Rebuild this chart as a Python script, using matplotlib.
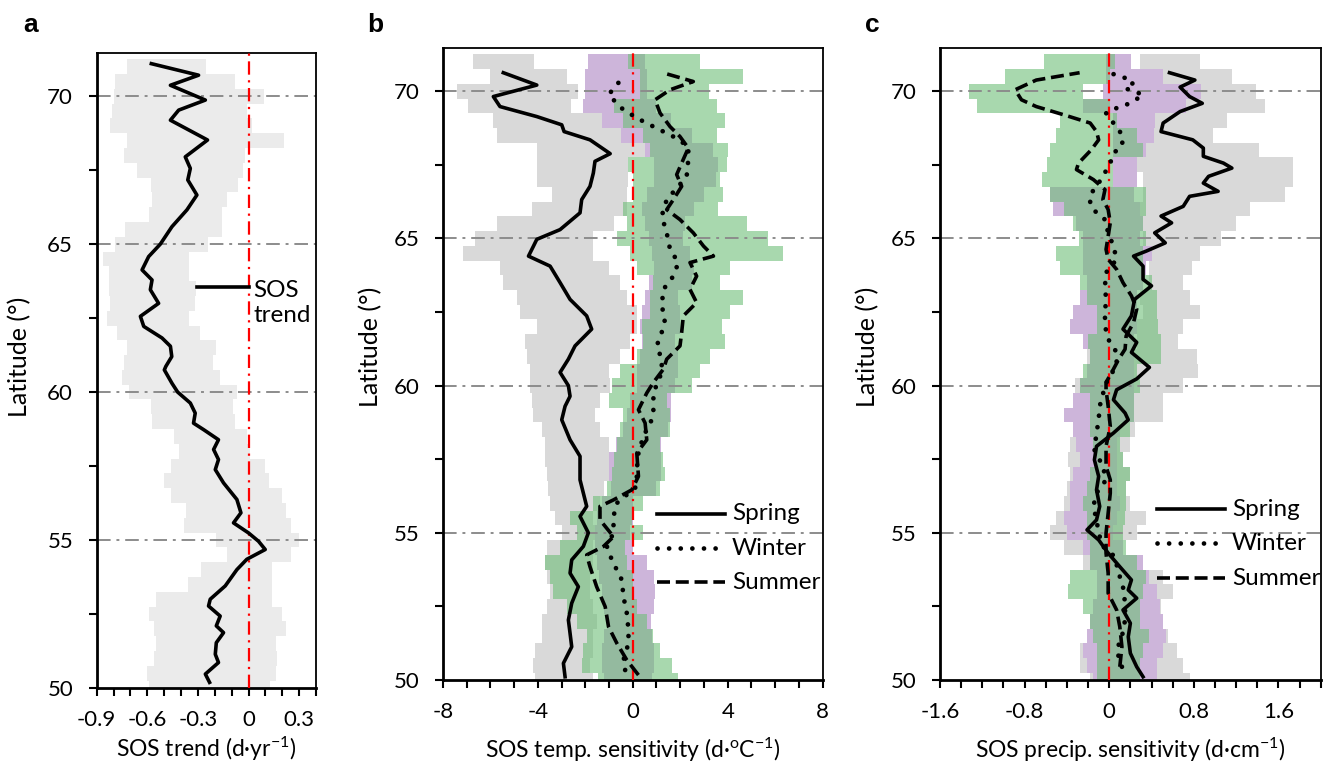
import numpy as np
import matplotlib
matplotlib.use('Agg')
import matplotlib.pyplot as plt

plt.rcParams['font.family'] = ['Lato', 'DejaVu Sans']
plt.rcParams['axes.unicode_minus'] = False
plt.rcParams['mathtext.fontset'] = 'custom'
plt.rcParams['mathtext.rm'] = 'Lato'
plt.rcParams['mathtext.it'] = 'Lato:italic'

# band latitudes (row centres, 0.5 deg rows)
band_lat = np.arange(50.0, 71.01, 0.5)

# ---- panel a : SOS trend ----
a_lo = [-0.59, -0.60, -0.56, -0.55, -0.56, -0.59, -0.55, -0.36, -0.28, -0.13, -0.19,
        -0.38, -0.37, -0.46, -0.50, -0.46, -0.41, -0.44, -0.57, -0.58, -0.71,
        -0.75, -0.74, -0.72, -0.78, -0.84, -0.82, -0.83, -0.83, -0.86, -0.79,
        -0.73, -0.59, -0.57, -0.58, -0.66, -0.74, -0.72, -0.82, -0.81, -0.80,
        -0.79, -0.72]
a_hi = [0.13, 0.16, 0.17, 0.16, 0.22, 0.20, 0.14, 0.14, 0.14, 0.25, 0.30,
        0.25, 0.22, 0.20, 0.12, 0.10, 0.01, -0.01, -0.08, -0.09, -0.07,
        -0.17, -0.21, -0.19, -0.29, -0.35, -0.32, -0.31, -0.35, -0.35, -0.24,
        -0.16, -0.16, -0.13, -0.06, -0.03, -0.02, 0.21, 0.02, -0.01, 0.09,
        -0.08, -0.25]
a_lat = [50.19, 50.47, 50.86, 51.14, 51.53, 51.87, 52.10, 52.43, 52.77, 53.00, 53.45,
         54.00, 54.35, 54.68, 54.96, 55.24, 55.58, 55.92, 56.37, 56.93, 57.38, 57.72,
         58.06, 58.39, 58.73, 58.95, 59.29, 59.63, 60.00, 60.30, 60.75, 60.87, 61.20,
         61.55, 61.83, 62.22, 62.56, 63.00, 63.46, 63.79, 64.13, 64.58, 65.00, 65.59,
         66.16, 66.66, 67.17, 67.56, 67.95, 68.52, 69.19, 69.53, 69.87, 70.37, 70.71,
         71.10]
a_trend = [-0.231, -0.256, -0.178, -0.197, -0.191, -0.148, -0.191, -0.168, -0.237,
           -0.227, -0.138, -0.069, -0.010, 0.099, 0.059, 0.000, -0.089, -0.045,
           -0.069, -0.148, -0.197, -0.178, -0.207, -0.178, -0.266, -0.326, -0.316,
           -0.345, -0.420, -0.454, -0.499, -0.490, -0.455, -0.463, -0.513, -0.621,
           -0.641, -0.533, -0.582, -0.572, -0.631, -0.592, -0.523, -0.454, -0.365,
           -0.306, -0.360, -0.345, -0.375, -0.243, -0.463, -0.414, -0.256, -0.463,
           -0.296, -0.576]

# ---- panel b : temperature sensitivity ----
b_spr_lo = [-4.11, -4.18, -4.11, -3.83, -3.83, -3.62, -3.48, -3.62, -3.69, -3.62, -3.00,
            -3.27, -3.48, -3.55, -3.62, -3.69, -3.69, -3.83, -4.18, -4.25, -4.32,
            -4.32, -4.46, -4.53, -4.04, -4.74, -4.88, -5.45, -5.59, -7.13, -6.64,
            -5.73, -4.25, -3.41, -4.04, -4.04, -4.04, -5.73, -5.87, -6.92, -7.41,
            -6.00, -6.74]
b_spr_hi = [-1.66, -1.80, -1.66, -1.66, -1.52, -1.66, -1.80, -1.80, -1.66, -1.66, -1.40,
            -1.66, -1.37, -1.23, -0.95, -0.81, -1.02, -1.37, -1.59, -1.37, -0.95,
            -1.02, -0.53, -0.11, 0.17, 0.17, -0.25, -0.53, -1.02, -1.66, -1.66,
            -0.81, -0.25, -0.25, -0.18, -0.18, 0.59, -0.25, -1.09, -2.60, -2.29,
            -2.78, -4.15]
b_win_lo = [-1.2, -1.3, -1.3, -1.2, -1.1, -1.2, -1.3, -1.4, -1.5, -1.6, -1.6,
            -1.5, -1.3, -0.9, -1.0, -1.0, -0.7, -0.4, -0.25, -0.1, 0.2,
            0.2, 0.3, 0.4, 0.3, 0.4, 0.5, 0.7, 0.9, 0.8, 0.7,
            0.5, 0.4, 0.6, 0.9, 0.9, 0.5, -0.5, -1.3, -2.1, -2.0,
            -2.0, -1.9]
b_win_hi = [0.8, 0.9, 0.9, 0.8, 0.75, 0.9, 0.95, 0.9, 0.6, 0.0, -0.1,
            0.0, 0.0, 1.0, 1.2, 1.2, 1.2, 1.5, 1.6, 1.6, 1.8,
            1.9, 1.9, 1.8, 2.0, 2.0, 1.9, 2.5, 2.6, 2.4, 2.1,
            2.2, 2.6, 3.0, 3.5, 3.6, 3.4, 2.5, 1.6, 1.0, 0.6,
            0.6, 0.5]
b_sum_lo = [-1.45, -2.15, -2.08, -1.94, -2.36, -2.78, -3.34, -3.48, -3.69, -3.06, -2.36,
            -2.64, -1.66, -1.09, -0.88, -0.81, -0.67, -0.53, -0.39, -1.02, -0.88,
            -0.53, 0.17, 0.45, 0.38, 0.73, 0.73, 0.87, 0.17, -0.11, -0.67,
            -0.25, -0.39, 0.03, 0.03, -0.18, 0.73, 0.45, -0.39, -0.81, 0.31,
            0.31, -0.18]
b_sum_hi = [1.92, 1.64, 1.15, 0.87, 0.59, 0.17, 0.03, 0.03, -0.25, -0.32, 0.45,
            -0.04, 0.45, 1.15, 1.36, 1.29, 1.15, 1.57, 1.57, 1.43, 2.48,
            2.83, 3.26, 3.89, 3.75, 4.10, 4.66, 3.68, 4.10, 6.34, 5.71,
            4.80, 3.61, 3.82, 3.68, 3.96, 4.03, 3.54, 3.89, 3.54, 3.19,
            4.66, 2.83]

b_spr_lat = [50.11, 50.57, 51.13, 51.59, 52.04, 52.61, 53.17, 53.63, 54.08, 54.54, 55.00,
             55.56, 55.90, 56.80, 57.60, 58.16, 58.84, 59.30, 59.64, 60.00, 60.45,
             60.90, 61.35, 61.92, 62.37, 62.93, 63.50, 64.06, 64.40, 64.74, 64.97,
             65.30, 65.87, 66.32, 66.77, 67.22, 67.62, 67.88, 68.35, 68.63, 68.86,
             69.14, 69.48, 69.82, 70.21, 70.63]
b_spr = [-2.85, -2.92, -2.57, -2.64, -2.71, -2.57, -2.29, -2.64, -2.57, -2.08, -1.87,
         -2.22, -1.94, -2.22, -2.22, -2.64, -2.99, -2.85, -2.64, -2.71, -3.06,
         -2.71, -2.43, -1.73, -1.94, -2.64, -3.06, -3.48, -4.39, -4.18, -4.04,
         -3.06, -2.22, -2.15, -1.80, -1.66, -1.59, -0.95, -1.80, -2.89, -2.99,
         -4.04, -5.59, -5.87, -4.04, -5.45]
b_win_lat = [50.34, 50.68, 51.25, 51.70, 52.27, 52.83, 53.40, 54.08, 54.54, 55.00, 55.56,
             56.01, 56.58, 57.14, 57.71, 58.28, 58.84, 59.18, 59.75, 60.45, 60.90,
             61.35, 61.81, 62.26, 62.71, 63.27, 63.72, 64.18, 64.63, 65.19, 65.76,
             66.32, 66.77, 67.11, 67.68, 68.13, 68.46, 68.80, 69.09, 69.42, 69.88,
             70.33, 70.63]
b_win = [-0.32, -0.39, -0.18, -0.18, -0.25, -0.39, -0.46, -0.88, -1.09, -0.81, -0.81,
         -0.67, 0.17, 0.17, 0.24, 0.45, 0.80, 0.87, 0.87, 1.22, 1.22,
         1.01, 1.22, 1.36, 1.22, 1.29, 1.71, 1.92, 1.57, 1.43, 1.22,
         1.43, 1.92, 2.27, 2.34, 2.34, 1.71, 0.87, 0.17, -0.46, -1.02,
         -0.56, -0.60]
b_sum_lat = [50.17, 50.68, 51.25, 51.81, 52.49, 53.17, 53.85, 54.25, 54.54, 54.87, 55.44,
             55.90, 56.12, 56.46, 56.92, 57.71, 58.16, 58.73, 59.18, 59.75, 60.11,
             60.56, 60.90, 61.35, 61.81, 62.37, 62.82, 63.27, 63.72, 64.18, 64.40,
             64.74, 65.19, 65.64, 65.98, 66.32, 66.77, 67.17, 67.56, 68.07, 68.46,
             68.80, 69.26, 69.71, 70.05, 70.33, 70.63]
b_sum = [0.24, -0.25, -0.67, -1.02, -1.16, -1.52, -1.80, -1.94, -1.23, -0.81, -1.38,
         -1.38, -0.81, -0.04, 0.24, 0.17, 0.59, 0.52, 0.24, 0.59, 0.87,
         1.29, 1.43, 1.99, 2.06, 2.13, 2.69, 2.41, 2.69, 2.41, 3.40,
         2.98, 2.55, 1.99, 1.43, 1.71, 2.06, 1.85, 2.06, 2.34, 1.99,
         1.57, 1.15, 0.94, 1.57, 2.55, 1.26]

# ---- panel c : precipitation sensitivity ----
c_spr_lo = [-0.18, -0.28, -0.28, -0.18, -0.12, -0.03, -0.06, -0.06, -0.25, -0.43, -0.56,
            -0.50, -0.43, -0.40, -0.37, -0.39, -0.37, -0.29, -0.31, -0.21, -0.32,
            0.23, -0.21, 0.26, -0.37, 0.32, 0.29, 0.38, 0.38, 0.38, 0.32,
            0.29, 0.29, 0.32, 0.32, 0.26, 0.35, 0.35, 0.43, 0.43, 0.38,
            0.38, 0.29]
c_spr_hi = [0.76, 0.70, 0.64, 0.56, 0.51, 0.49, 0.60, 0.51, 0.29, 0.07, 0.26,
            0.35, 0.20, 0.16, 0.20, 0.13, 0.20, 0.24, 0.51, 0.51, 0.70,
            0.84, 0.83, 0.65, 0.70, 0.86, 0.76, 0.70, 0.78, 0.86, 1.06,
            1.20, 1.33, 1.66, 1.74, 1.74, 1.42, 0.98, 1.11, 1.47, 1.39,
            1.16, 0.86]
c_win_lo = [-0.15, -0.21, -0.25, -0.21, -0.18, -0.15, -0.12, -0.12, -0.18, -0.25, -0.40,
            -0.43, -0.37, -0.37, -0.34, -0.28, -0.31, -0.34, -0.43, -0.34, -0.28,
            -0.21, -0.18, -0.25, -0.37, -0.34, -0.28, -0.21, -0.25, -0.25, -0.25,
            -0.31, -0.53, -0.56, 0.04, 0.04, 0.04, 0.04, 0.04, -0.25, -0.06,
            -0.03, -0.03]
c_win_hi = [0.45, 0.45, 0.51, 0.54, 0.51, 0.48, 0.45, 0.38, 0.32, 0.13, 0.04,
            0.07, 0.10, 0.07, 0.07, 0.07, 0.07, 0.10, 0.23, 0.23, 0.23,
            0.23, 0.23, 0.23, 0.26, 0.26, 0.26, 0.32, 0.35, 0.40, 0.29,
            0.32, 0.29, 0.23, 0.26, 0.26, 0.35, 0.42, 0.43, 0.73, 0.87,
            0.51, 0.21]
c_sum_lo = [-0.12, -0.12, -0.12, -0.15, -0.18, -0.25, -0.39, -0.37, -0.18, -0.18, -0.21,
            -0.21, -0.25, -0.21, -0.18, -0.12, -0.15, -0.18, -0.18, -0.18, -0.28,
            -0.25, -0.18, -0.20, -0.12, -0.12, -0.21, -0.28, -0.47, -0.50, -0.29,
            -0.34, -0.43, -0.56, -0.64, -0.59, -0.56, -0.50, -0.47, -1.25, -1.33,
            -0.99, -0.62]
c_sum_hi = [0.29, 0.29, 0.32, 0.38, 0.29, 0.29, 0.32, 0.35, 0.26, 0.16, 0.13,
            0.15, 0.16, 0.16, 0.20, 0.13, 0.10, 0.20, 0.23, 0.23, 0.29,
            0.26, 0.49, 0.49, 0.46, 0.45, 0.45, 0.40, 0.32, 0.32, 0.35,
            0.32, 0.35, 0.35, 0.04, 0.04, 0.32, 0.26, 0.07, 0.01, -0.25,
            0.01, 0.05]

c_spr_lat = [50.11, 50.45, 50.91, 51.47, 51.93, 52.38, 52.78, 53.06, 53.40, 53.85, 54.31,
             54.76, 55.10, 55.44, 55.90, 56.46, 56.92, 57.48, 57.94, 58.39, 58.84,
             59.07, 59.52, 59.86, 60.23, 60.62, 61.13, 61.47, 61.92, 62.37, 62.93,
             63.39, 63.61, 64.06, 64.40, 64.57, 64.85, 65.19, 65.53, 65.76, 66.09,
             66.43, 66.60, 66.88, 67.11, 67.39, 67.56, 67.79, 68.07, 68.35, 68.63,
             68.92, 69.31, 69.59, 69.82, 70.14, 70.38, 70.63]
c_spr = [0.32, 0.26, 0.20, 0.18, 0.20, 0.13, 0.26, 0.18, 0.21, 0.10, -0.01,
         -0.10, -0.21, -0.12, -0.09, -0.12, -0.10, -0.14, -0.12, 0.04, 0.18,
         0.15, 0.04, 0.07, 0.26, 0.38, 0.21, 0.26, 0.13, 0.21, 0.24,
         0.40, 0.32, 0.32, 0.23, 0.35, 0.53, 0.43, 0.59, 0.49, 0.70,
         0.76, 1.03, 0.89, 0.94, 1.16, 1.08, 0.89, 0.89, 0.79, 0.49,
         0.51, 0.67, 0.88, 0.76, 0.67, 0.81, 0.57]
c_win_lat = [50.45, 51.02, 51.47, 52.04, 52.61, 53.17, 53.63, 54.20, 54.54, 54.99, 55.44,
             55.90, 56.35, 56.80, 57.26, 57.82, 58.39, 58.84, 59.30, 59.98, 60.23,
             60.68, 61.13, 61.58, 62.03, 62.48, 62.93, 63.39, 63.84, 64.29, 64.74,
             65.19, 65.64, 65.87, 66.15, 66.49, 66.77, 67.11, 67.56, 67.90, 68.13,
             68.46, 68.69, 68.92, 69.26, 69.48, 69.59, 69.88, 69.99, 70.10, 70.29,
             70.44, 70.63]
c_win = [0.12, 0.07, 0.12, 0.15, 0.15, 0.13, 0.09, 0.05, -0.06, -0.10, -0.12,
         -0.15, -0.12, -0.03, -0.06, -0.14, -0.12, -0.10, -0.09, -0.04, -0.01,
         0.07, 0.07, -0.01, -0.04, -0.04, -0.03, -0.04, -0.03, 0.07, 0.04,
         -0.01, -0.04, -0.12, -0.18, -0.18, -0.12, -0.06, 0.01, 0.04, 0.12,
         0.13, 0.09, 0.04, -0.03, 0.10, 0.20, 0.32, 0.24, 0.15, 0.23,
         0.16, 0.00]
c_sum_lat = [50.45, 51.13, 51.81, 52.38, 52.95, 53.63, 54.31, 54.99, 55.67, 56.35, 56.80,
             57.26, 57.94, 58.62, 59.30, 59.86, 60.11, 60.56, 60.90, 61.24, 61.69,
             62.14, 62.60, 63.05, 63.50, 63.95, 64.29, 64.63, 65.08, 65.53, 65.98,
             66.32, 66.66, 67.00, 67.34, 67.56, 68.01, 68.35, 68.63, 68.92, 69.20,
             69.48, 69.71, 70.05, 70.38, 70.63]
c_sum = [0.10, 0.12, 0.10, 0.07, -0.01, -0.01, -0.03, -0.03, -0.01, 0.01, 0.01,
         -0.03, -0.03, 0.01, -0.01, -0.03, -0.03, 0.04, 0.09, 0.15, 0.16,
         0.23, 0.26, 0.21, 0.13, 0.07, -0.01, -0.03, -0.01, 0.01, -0.01,
         -0.06, -0.04, -0.15, -0.31, -0.29, -0.17, -0.10, -0.12, -0.18, -0.43,
         -0.69, -0.83, -0.89, -0.69, -0.28]

GREY = '#d9d9d9'
PURPLE = '#cdb5da'
GREEN = '#6ebe78'
LW = 2.6
DOT_LW = 3.4
DOT = (0, (0.01, 2.45))
DASH = (0, (3.6, 1.6))
TICK_FS = 16
LAB_FS = 16.5
LEG_FS = 17.5


def band(ax, lo, hi, color, alpha):
    lo = np.array(lo)
    hi = np.array(hi)
    ax.barh(band_lat, hi - lo, left=lo, height=0.5, color=color, alpha=alpha,
            linewidth=0, zorder=1)


def style(ax, xlim, xmaj, xmin, xlabels):
    ax.set_ylim(50, 71.47)
    ax.set_xlim(*xlim)
    ax.set_yticks([50, 55, 60, 65, 70])
    ax.set_yticks([52.5, 57.5, 62.5, 67.5], minor=True)
    ax.set_xticks(xmaj)
    ax.set_xticklabels(xlabels)
    ax.set_xticks(xmin, minor=True)
    ax.tick_params(which='both', direction='out', length=6, width=1.5,
                   labelsize=TICK_FS, top=False, right=False)
    ax.tick_params(axis='x', pad=10)
    ax.tick_params(axis='y', pad=11)
    for s in ['top', 'right']:
        ax.spines[s].set_linewidth(1.3)
    for s in ['left', 'bottom']:
        ax.spines[s].set_linewidth(2)
    for y in [55, 60, 65, 70]:
        ax.axhline(y, color='#8c8c8c', lw=1.4, ls=(0, (7, 3, 1.5, 3)), zorder=2)
    ax.axvline(0, color='red', lw=1.6, ls=(0, (6, 2.5, 1, 2.5)), zorder=3)
    ax.set_ylabel('Latitude (°)', fontsize=18, va='center')


def draw_lines(ax, spr, spr_lat, win, win_lat, summ, summ_lat):
    ax.plot(spr, spr_lat, color='black', lw=LW, solid_joinstyle='round', zorder=5)
    ax.plot(win, win_lat, color='black', lw=DOT_LW, ls=DOT, dash_capstyle='round',
            zorder=5)
    ax.plot(summ, summ_lat, color='black', lw=LW, ls=DASH, zorder=5)


def legend_row(ax, x0, x1, y, text, ls):
    lw = DOT_LW if ls == DOT else LW
    ax.plot([x0, x1], [y, y], transform=ax.transAxes, color='black', lw=lw,
            ls=ls, dash_capstyle='round' if ls == DOT else 'butt',
            clip_on=False, zorder=6)
    ax.text(x1 + 0.018, y, text, transform=ax.transAxes, fontsize=LEG_FS,
            va='center', ha='left', clip_on=True, zorder=6)


fig = plt.figure(figsize=(13.3, 7.64), dpi=100)

# panel a
ax1 = fig.add_axes([0.0727, 0.0995, 0.1649, 0.8315])
band(ax1, a_lo, a_hi, '#ebebeb', 1.0)
ax1.plot(a_trend, a_lat, color='black', lw=LW, solid_joinstyle='round', zorder=5)
style(ax1, (-0.9, 0.4), np.arange(-0.9, 0.31, 0.3), np.arange(-0.9, 0.41, 0.1),
      ['-0.9', '-0.6', '-0.3', '0', '0.3'])
ax1.set_xlabel('SOS trend (d·yr$^{\\mathregular{-1}}$)', fontsize=LAB_FS, va='center')
ax1.xaxis.set_label_coords(0.5, -0.096)
ax1.yaxis.set_label_coords(-0.35, 0.521)
ax1.plot([0.456, 0.696], [0.6307, 0.6307], transform=ax1.transAxes, color='black',
         lw=LW, zorder=6)
ax1.text(0.714, 0.6055, 'SOS\ntrend', transform=ax1.transAxes, fontsize=LEG_FS,
         va='center', ha='left', linespacing=1.25, zorder=6)

# panel b
ax2 = fig.add_axes([0.3329, 0.1099, 0.2857, 0.8273])
band(ax2, b_spr_lo, b_spr_hi, GREY, 1.0)
band(ax2, b_win_lo, b_win_hi, PURPLE, 1.0)
band(ax2, b_sum_lo, b_sum_hi, GREEN, 0.6)
draw_lines(ax2, b_spr, b_spr_lat, b_win, b_win_lat, b_sum, b_sum_lat)
style(ax2, (-8, 8), [-8, -4, 0, 4, 8], np.arange(-8, 8.1, 1),
      ['-8', '-4', '0', '4', '8'])
ax2.set_xlabel('SOS temp. sensitivity (d·$^{\\mathregular{o}}$C$^{\\mathregular{-1}}$)',
               fontsize=LAB_FS, va='center')
ax2.xaxis.set_label_coords(0.5, -0.11)
ax2.yaxis.set_label_coords(-0.19, 0.527)
legend_row(ax2, 0.563, 0.743, 0.2627, 'Spring', '-')
legend_row(ax2, 0.563, 0.743, 0.2084, 'Winter', DOT)
legend_row(ax2, 0.563, 0.743, 0.1546, 'Summer', DASH)

# panel c
ax3 = fig.add_axes([0.7068, 0.1099, 0.2862, 0.8273])
band(ax3, c_spr_lo, c_spr_hi, GREY, 1.0)
band(ax3, c_win_lo, c_win_hi, PURPLE, 1.0)
band(ax3, c_sum_lo, c_sum_hi, GREEN, 0.6)
draw_lines(ax3, c_spr, c_spr_lat, c_win, c_win_lat, c_sum, c_sum_lat)
style(ax3, (-1.6, 2.0), [-1.6, -0.8, 0, 0.8, 1.6], np.arange(-1.6, 2.01, 0.2),
      ['-1.6', '-0.8', '0', '0.8', '1.6'])
ax3.set_xlabel('SOS precip. sensitivity (d·cm$^{\\mathregular{-1}}$)', fontsize=LAB_FS,
               va='center')
ax3.xaxis.set_label_coords(0.5, -0.11)
ax3.yaxis.set_label_coords(-0.19, 0.527)
legend_row(ax3, 0.569, 0.749, 0.2706, 'Spring', '-')
legend_row(ax3, 0.569, 0.749, 0.2163, 'Winter', DOT)
legend_row(ax3, 0.569, 0.749, 0.1609, 'Summer', DASH)

for lab, x in [('a', 0.023), ('b', 0.282), ('c', 0.656)]:
    fig.text(x, 0.967, lab, fontsize=19, fontweight='bold',
             family='Liberation Sans', va='center', ha='center')

fig.savefig('out.png', dpi=100)
